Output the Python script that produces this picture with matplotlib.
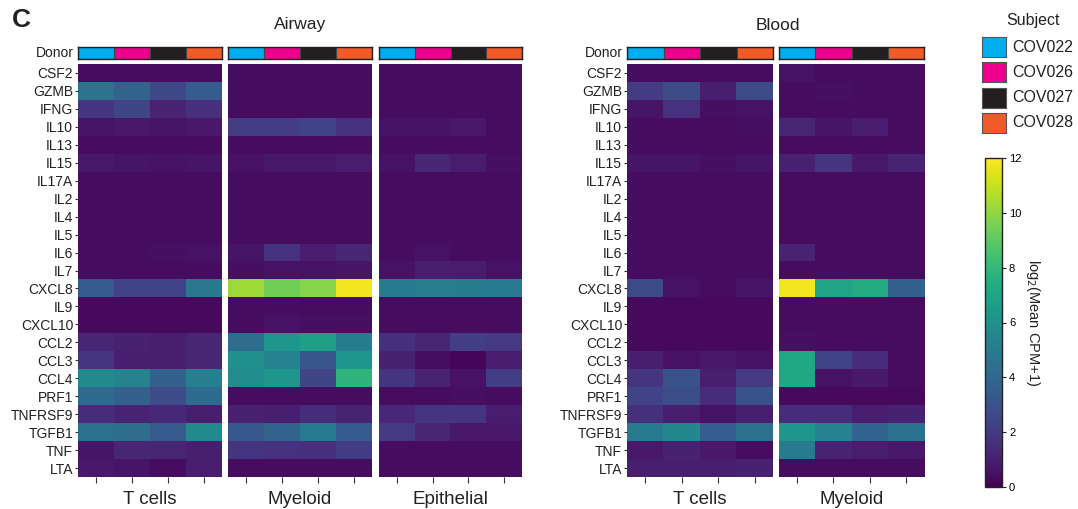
import numpy as np
import matplotlib
matplotlib.use("Agg")
import matplotlib.pyplot as plt
from matplotlib.colors import Normalize

plt.rcParams["font.family"] = ["Liberation Sans", "DejaVu Sans"]

W, H = 1078, 509

genes = ["CSF2", "GZMB", "IFNG", "IL10", "IL13", "IL15", "IL17A", "IL2", "IL4",
         "IL5", "IL6", "IL7", "CXCL8", "IL9", "CXCL10", "CCL2", "CCL3", "CCL4",
         "PRF1", "TNFRSF9", "TGFB1", "TNF", "LTA"]
donors = ["COV022", "COV026", "COV027", "COV028"]
donor_colors = ["#00aeef", "#ec008c", "#231f20", "#f15a29"]

# log2(mean CPM + 1), rows = genes, cols = donors
airway_tcells = [
    [0.4, 0.4, 0.4, 0.4], [4.6, 3.8, 2.6, 3.5], [1.9, 2.5, 1.2, 1.6],
    [0.7, 0.8, 0.7, 0.8], [0.4, 0.4, 0.4, 0.4], [0.8, 0.7, 0.6, 0.7],
    [0.4, 0.4, 0.4, 0.4], [0.4, 0.4, 0.4, 0.4], [0.4, 0.4, 0.4, 0.4],
    [0.4, 0.4, 0.4, 0.4], [0.4, 0.4, 0.5, 0.6], [0.4, 0.4, 0.4, 0.4],
    [3.4, 2.4, 2.4, 4.8], [0.3, 0.3, 0.3, 0.3], [0.3, 0.3, 0.3, 0.3],
    [1.3, 1.1, 1.0, 1.3], [1.9, 1.0, 1.0, 1.3], [5.7, 5.3, 3.7, 5.2],
    [4.2, 3.7, 2.8, 4.2], [1.5, 1.2, 1.4, 1.0], [4.4, 4.3, 3.4, 5.7],
    [0.7, 1.3, 1.3, 1.0], [0.8, 0.7, 0.4, 0.9],
]
airway_myeloid = [
    [0.4, 0.4, 0.4, 0.4], [0.4, 0.4, 0.4, 0.4], [0.4, 0.4, 0.4, 0.4],
    [2.2, 2.2, 2.4, 1.7], [0.4, 0.4, 0.4, 0.4], [0.6, 0.8, 0.8, 0.9],
    [0.4, 0.4, 0.4, 0.4], [0.4, 0.4, 0.4, 0.4], [0.4, 0.4, 0.4, 0.4],
    [0.4, 0.4, 0.4, 0.4], [0.7, 1.7, 0.9, 1.3], [0.5, 0.6, 0.6, 0.7],
    [10.3, 9.4, 9.8, 11.8], [0.4, 0.4, 0.4, 0.4], [0.4, 0.6, 0.5, 0.5],
    [4.3, 6.3, 6.8, 5.1], [6.0, 5.3, 3.2, 6.3], [5.9, 6.3, 2.5, 7.8],
    [0.4, 0.4, 0.4, 0.4], [1.1, 1.0, 1.5, 1.2], [3.3, 3.8, 5.0, 3.5],
    [1.8, 1.7, 1.6, 2.1], [0.4, 0.4, 0.4, 0.4],
]
airway_epithelial = [
    [0.4, 0.4, 0.4, 0.4], [0.4, 0.4, 0.4, 0.4], [0.4, 0.4, 0.4, 0.4],
    [0.6, 0.6, 0.8, 0.4], [0.4, 0.4, 0.4, 0.4], [0.6, 1.3, 0.9, 0.5],
    [0.4, 0.4, 0.4, 0.4], [0.4, 0.4, 0.4, 0.4], [0.4, 0.4, 0.4, 0.4],
    [0.4, 0.4, 0.4, 0.4], [0.4, 0.6, 0.4, 0.4], [0.6, 1.0, 0.9, 0.6],
    [5.0, 5.2, 5.1, 5.0], [0.4, 0.4, 0.4, 0.4], [0.4, 0.4, 0.4, 0.4],
    [1.6, 1.3, 2.2, 2.0], [1.1, 0.5, 0.2, 0.9], [1.8, 1.2, 0.6, 2.2],
    [0.4, 0.4, 0.5, 0.4], [1.4, 1.8, 1.8, 0.9], [2.0, 1.3, 0.8, 0.8],
    [0.4, 0.4, 0.4, 0.4], [0.4, 0.4, 0.4, 0.4],
]
blood_tcells = [
    [0.4, 0.4, 0.4, 0.4], [2.1, 2.8, 1.0, 2.7], [0.7, 1.7, 0.5, 0.6],
    [0.4, 0.4, 0.4, 0.5], [0.4, 0.4, 0.4, 0.4], [0.7, 0.7, 0.5, 0.7],
    [0.4, 0.4, 0.4, 0.4], [0.4, 0.4, 0.4, 0.4], [0.4, 0.4, 0.4, 0.4],
    [0.4, 0.4, 0.4, 0.4], [0.4, 0.4, 0.4, 0.4], [0.4, 0.4, 0.4, 0.4],
    [2.7, 0.6, 0.4, 0.7], [0.3, 0.3, 0.3, 0.3], [0.3, 0.3, 0.3, 0.3],
    [0.3, 0.3, 0.3, 0.3], [1.0, 0.6, 0.8, 0.6], [1.8, 3.0, 1.0, 2.0],
    [2.4, 2.9, 1.5, 3.0], [1.6, 1.0, 0.6, 1.0], [5.0, 5.6, 3.6, 4.4],
    [0.8, 1.1, 0.8, 0.4], [1.0, 1.0, 1.0, 1.1],
]
blood_myeloid = [
    [0.6, 0.4, 0.4, 0.4], [0.4, 0.5, 0.4, 0.4], [0.4, 0.4, 0.4, 0.4],
    [1.3, 0.7, 0.9, 0.4], [0.4, 0.4, 0.4, 0.4], [1.1, 1.8, 0.8, 1.2],
    [0.4, 0.4, 0.4, 0.4], [0.4, 0.4, 0.4, 0.4], [0.4, 0.4, 0.4, 0.4],
    [0.4, 0.4, 0.4, 0.4], [1.2, 0.4, 0.4, 0.4], [0.4, 0.4, 0.4, 0.4],
    [11.8, 7.0, 7.4, 3.7], [0.4, 0.4, 0.4, 0.4], [0.4, 0.4, 0.4, 0.4],
    [0.5, 0.4, 0.4, 0.4], [7.2, 2.4, 1.5, 0.4], [7.2, 0.6, 0.8, 0.4],
    [0.3, 0.3, 0.3, 0.3], [1.5, 1.5, 0.9, 1.1], [6.3, 5.3, 3.8, 4.5],
    [5.0, 1.2, 0.9, 0.8], [0.4, 0.4, 0.4, 0.4],
]

cbar_ticks = [0, 2, 4, 6, 8, 10, 12]
norm = Normalize(vmin=0, vmax=12)
cmap = plt.get_cmap("viridis")

fig = plt.figure(figsize=(W / 100, H / 100), dpi=100)


def px_axes(x0, y0, x1, y1):
    # pixel box with top-left origin -> figure axes
    return fig.add_axes([x0 / W, 1 - y1 / H, (x1 - x0) / W, (y1 - y0) / H])


HM_TOP, HM_BOT = 64, 477
BAR_TOP, BAR_BOT = 47, 59

panels = [
    (78, 222, airway_tcells, "T cells", True),
    (228, 372, airway_myeloid, "Myeloid", False),
    (379, 522, airway_epithelial, "Epithelial", False),
    (627, 773, blood_tcells, "T cells", True),
    (779, 924, blood_myeloid, "Myeloid", False),
]

for x0, x1, vals, name, show_genes in panels:
    ax = px_axes(x0, HM_TOP, x1, HM_BOT)
    ax.imshow(np.array(vals), cmap=cmap, norm=norm, aspect="auto",
              interpolation="nearest")
    for s in ax.spines.values():
        s.set_visible(False)
    ax.set_xticks(range(len(donors)))
    ax.set_xticklabels([])
    ax.tick_params(axis="x", length=4, width=0.8, color="#333333", pad=0)
    ax.set_xlabel(name, fontsize=13.5, color="#222222", labelpad=6)
    if show_genes:
        ax.set_yticks(range(len(genes)))
        ax.set_yticklabels(genes, fontsize=10, color="#222222")
        ax.tick_params(axis="y", length=2.5, width=0.8, pad=1, color="#333333")
    else:
        ax.set_yticks([])

    # donor annotation bar
    bx = px_axes(x0, BAR_TOP, x1, BAR_BOT)
    bx.bar(range(len(donors)), [1] * len(donors), width=1.0, color=donor_colors,
           edgecolor="#444444", linewidth=0.8)
    bx.set_xlim(-0.5, len(donors) - 0.5)
    bx.set_ylim(0, 1)
    bx.set_xticks([])
    bx.set_yticks([])
    for s in bx.spines.values():
        s.set_linewidth(1.0)
        s.set_color("#222222")
    if show_genes:
        bx.text(-0.03, 0.5, "Donor", transform=bx.transAxes, ha="right",
                va="center", fontsize=10, color="#222222")

fig.text(300 / W, 1 - 25 / H, "Airway", ha="center", va="center", fontsize=12.5,
         color="#222222")
fig.text(778 / W, 1 - 25 / H, "Blood", ha="center", va="center", fontsize=12.5,
         color="#222222")
fig.text(12 / W, 1 - 20 / H, "C", ha="left", va="center", fontsize=19,
         fontweight="bold", color="#222222")

# subject legend
fig.text(1033 / W, 1 - 20 / H, "Subject", ha="center", va="center",
         fontsize=11.5, color="#222222")
for i, (d, c) in enumerate(zip(donors, donor_colors)):
    y0 = 37 + i * 25.3
    lx = px_axes(982, y0, 1006, y0 + 20)
    lx.set_facecolor(c)
    lx.set_xticks([])
    lx.set_yticks([])
    for s in lx.spines.values():
        s.set_color("#555555")
        s.set_linewidth(0.8)
    fig.text(1012 / W, 1 - (y0 + 10) / H, d, ha="left", va="center",
             fontsize=11.5, color="#222222")

# colorbar
cax = px_axes(985, 158, 1002, 487)
sm = plt.cm.ScalarMappable(norm=norm, cmap=cmap)
cb = fig.colorbar(sm, cax=cax, ticks=cbar_ticks)
cb.outline.set_linewidth(1.0)
cb.outline.set_edgecolor("#222222")
cax.tick_params(labelsize=8, length=3, width=0.8, color="#222222", pad=2)
cb.set_label("log$_2$(Mean CPM+1)", rotation=270, fontsize=10.5,
             labelpad=15, color="#222222")

fig.savefig("out.png", dpi=100)
